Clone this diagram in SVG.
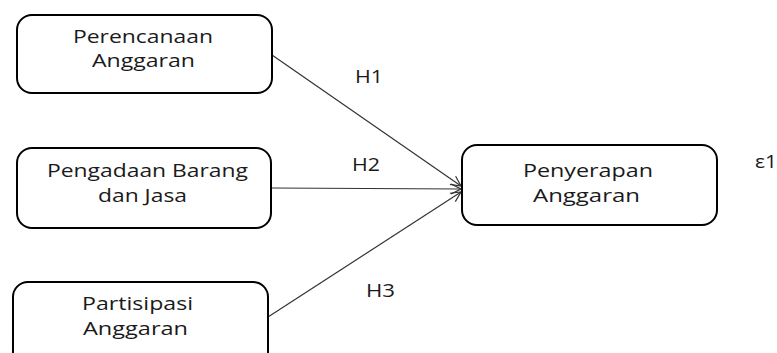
<svg xmlns="http://www.w3.org/2000/svg" width="777" height="353" viewBox="0 0 777 353">
<style>
.box{fill:#fff;stroke:#000;stroke-width:2}
.t{font-family:"Open Sans","Liberation Sans",sans-serif;font-size:18.5px;fill:#1a1a1a;text-anchor:middle}
.c{stroke:#333;stroke-width:1.2;fill:none;marker-end:url(#arr)}
</style>
<defs>
<marker id="arr" viewBox="0 0 12 12" refX="11" refY="6" markerWidth="12" markerHeight="12" markerUnits="userSpaceOnUse" orient="auto">
<path d="M1,1 L11,6 L1,11" fill="none" stroke="#333" stroke-width="1.2"/>
</marker>
</defs>
<rect width="777" height="353" fill="#fff"/>
<g id="connectors">
<line class="c" x1="272" y1="55" x2="461" y2="186"/>
<line class="c" x1="271" y1="188" x2="461" y2="189"/>
<line class="c" x1="268" y1="317" x2="461" y2="192"/>
</g>
<g id="n1">
<rect class="box" x="17" y="15" width="255" height="78" rx="15"/>
<text class="t" x="143" y="43" textLength="140" lengthAdjust="spacingAndGlyphs">Perencanaan</text>
<text class="t" x="143.5" y="67" textLength="103" lengthAdjust="spacingAndGlyphs">Anggaran</text>
</g>
<g id="n2">
<rect class="box" x="17" y="148" width="254" height="80" rx="15"/>
<text class="t" x="147.5" y="177" textLength="201" lengthAdjust="spacingAndGlyphs">Pengadaan Barang</text>
<text class="t" x="142.5" y="202" textLength="89" lengthAdjust="spacingAndGlyphs">dan Jasa</text>
</g>
<g id="n3">
<rect class="box" x="13" y="282" width="255" height="90" rx="15"/>
<text class="t" x="137.5" y="310" textLength="111" lengthAdjust="spacingAndGlyphs">Partisipasi</text>
<text class="t" x="135.5" y="335" textLength="105" lengthAdjust="spacingAndGlyphs">Anggaran</text>
</g>
<g id="n4">
<rect class="box" x="462" y="145" width="255" height="80" rx="15"/>
<text class="t" x="588" y="177" textLength="130" lengthAdjust="spacingAndGlyphs">Penyerapan</text>
<text class="t" x="586.5" y="202" textLength="107" lengthAdjust="spacingAndGlyphs">Anggaran</text>
</g>
<g id="labels">
<text class="t" x="369" y="83" textLength="28" lengthAdjust="spacingAndGlyphs">H1</text>
<text class="t" x="366" y="171" textLength="28" lengthAdjust="spacingAndGlyphs">H2</text>
<text class="t" x="380.5" y="297" textLength="29" lengthAdjust="spacingAndGlyphs">H3</text>
<text class="t" x="766" y="168" textLength="22" lengthAdjust="spacingAndGlyphs">ε1</text>
</g>
</svg>
